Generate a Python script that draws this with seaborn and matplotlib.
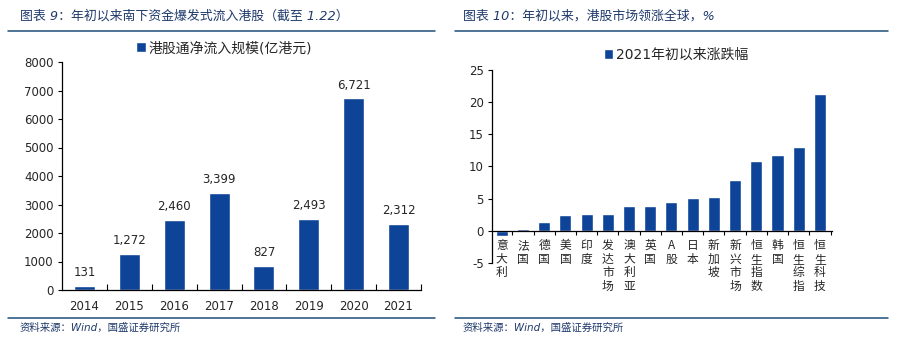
import numpy as np
import pandas as pd
import matplotlib
matplotlib.use("Agg")
import matplotlib.pyplot as plt
from matplotlib.lines import Line2D
from matplotlib.ticker import FixedLocator
import seaborn as sns

# ---- data ----
years = ["2014", "2015", "2016", "2017", "2018", "2019", "2020", "2021"]
inflow = [131, 1272, 2460, 3399, 827, 2493, 6721, 2312]
inflow_label = "港股通净流入规模(亿港元)"

markets = ["意大利", "法国", "德国", "美国", "印度", "发达市场", "澳大利亚", "英国",
           "A股", "日本", "新加坡", "新兴市场", "恒生指数", "韩国", "恒生综指", "恒生科技"]
returns = [-0.8, 0.3, 1.3, 2.4, 2.6, 2.6, 3.8, 3.8, 4.5, 5.1, 5.3, 7.9, 10.9, 11.8, 13.1, 21.2]
returns_label = "2021年初以来涨跌幅"

title_left = "图表 9：年初以来南下资金爆发式流入港股（截至 1.22）"
title_right = "图表 10：年初以来，港股市场领涨全球，%"
source_text = "资料来源：Wind，国盛证券研究所"

# ---- style ----
sns.set_theme(style="white")
plt.rcParams["font.family"] = ["DejaVu Sans", "Noto Sans CJK SC"]
plt.rcParams["axes.unicode_minus"] = False

bar_color = "#0E4497"
navy = "#1F3A6B"
rule_color = "#1F4E79"

W, H = 898, 345
fig = plt.figure(figsize=(W / 100, H / 100), dpi=100)
fig.patch.set_facecolor("white")


def px_axes(x0, x1, ytop, ybot):
    return fig.add_axes([x0 / W, 1 - ybot / H, (x1 - x0) / W, (ybot - ytop) / H])


# ---- left chart ----
axL = px_axes(62, 421, 62, 290)
dfL = pd.DataFrame({"year": years, "val": inflow, "s": inflow_label})
sns.barplot(data=dfL, x="year", y="val", hue="s", palette=[bar_color],
            saturation=1, width=0.47, ax=axL, legend=True)
axL.set_xlim(-0.5, len(years) - 0.5)
axL.set_ylim(0, 8000)
axL.set_yticks(np.arange(0, 8001, 1000))
axL.set_xlabel("")
axL.set_ylabel("")
for s in ["top", "right"]:
    axL.spines[s].set_visible(False)
for s in ["left", "bottom"]:
    axL.spines[s].set_color("black")
    axL.spines[s].set_linewidth(0.9)
axL.tick_params(axis="y", which="major", direction="out", length=3, width=0.8,
                color="black", labelsize=8.5, pad=3, left=True)
axL.tick_params(axis="x", which="major", length=0, labelsize=8.5, pad=7)
axL.xaxis.set_minor_locator(FixedLocator(np.arange(0.5, len(years), 1)))
axL.tick_params(axis="x", which="minor", direction="in", length=4, width=0.8,
                color="black", bottom=True)
axL.bar_label(axL.containers[0], labels=[f"{v:,}" for v in inflow],
              padding=5, fontsize=8.5)
axL.legend(loc="center", bbox_to_anchor=(224 / W, 1 - 48 / H),
           bbox_transform=fig.transFigure, frameon=False, fontsize=10,
           handlelength=0.7, handleheight=0.7, handletextpad=0.2)

# ---- right chart ----
axR = px_axes(492, 832, 70, 263)
dfR = pd.DataFrame({"m": ["\n".join(list(m)) if m != "A股" else "A\n股" for m in markets],
                    "val": returns, "s": returns_label})
sns.barplot(data=dfR, x="m", y="val", hue="s", palette=[bar_color],
            saturation=1, width=0.57, ax=axR, legend=True)
axR.set_xlim(-0.46, len(markets) - 0.43)
axR.set_ylim(-5, 25)
axR.set_yticks(np.arange(-5, 26, 5))
axR.set_xlabel("")
axR.set_ylabel("")
for s in ["top", "right"]:
    axR.spines[s].set_visible(False)
axR.spines["bottom"].set_position(("data", 0))
for s in ["left", "bottom"]:
    axR.spines[s].set_color("black")
    axR.spines[s].set_linewidth(0.9)
axR.tick_params(axis="y", which="major", direction="out", length=3, width=0.8,
                color="black", labelsize=8.5, pad=3, left=True)
axR.tick_params(axis="x", which="major", length=0, labelsize=8.5, pad=6)
for lab in axR.get_xticklabels():
    lab.set_linespacing(1.05)
    lab.set_fontfamily(["Noto Sans CJK SC", "DejaVu Sans"])
axR.xaxis.set_minor_locator(FixedLocator(np.arange(0.5, len(markets), 1)))
axR.tick_params(axis="x", which="minor", direction="out", length=3, width=0.8,
                color="black", bottom=True)
axR.legend(loc="center", bbox_to_anchor=(676 / W, 1 - 55 / H),
           bbox_transform=fig.transFigure, frameon=False, fontsize=10,
           handlelength=0.7, handleheight=0.7, handletextpad=0.2)

# ---- titles, rules, sources ----
title_kw = dict(color=navy, fontsize=9.3, style="italic",
                family=["DejaVu Sans", "Noto Sans CJK SC"], va="center", ha="left")
fig.text(20 / W, 1 - 16 / H, title_left, **title_kw)
fig.text(463 / W, 1 - 16 / H, title_right, **title_kw)
for (x0, x1) in [(8, 435), (455, 888)]:
    for y in (31, 318):
        fig.add_artist(Line2D([x0 / W, x1 / W], [1 - y / H, 1 - y / H],
                              transform=fig.transFigure, color=rule_color, lw=1.1))
src_kw = dict(color=navy, fontsize=7.5, style="italic",
              family=["DejaVu Sans", "Noto Sans CJK SC"], va="center", ha="left")
fig.text(20 / W, 1 - 328 / H, source_text, **src_kw)
fig.text(463 / W, 1 - 328 / H, source_text, **src_kw)

fig.savefig("out.png", dpi=100, facecolor="white")
